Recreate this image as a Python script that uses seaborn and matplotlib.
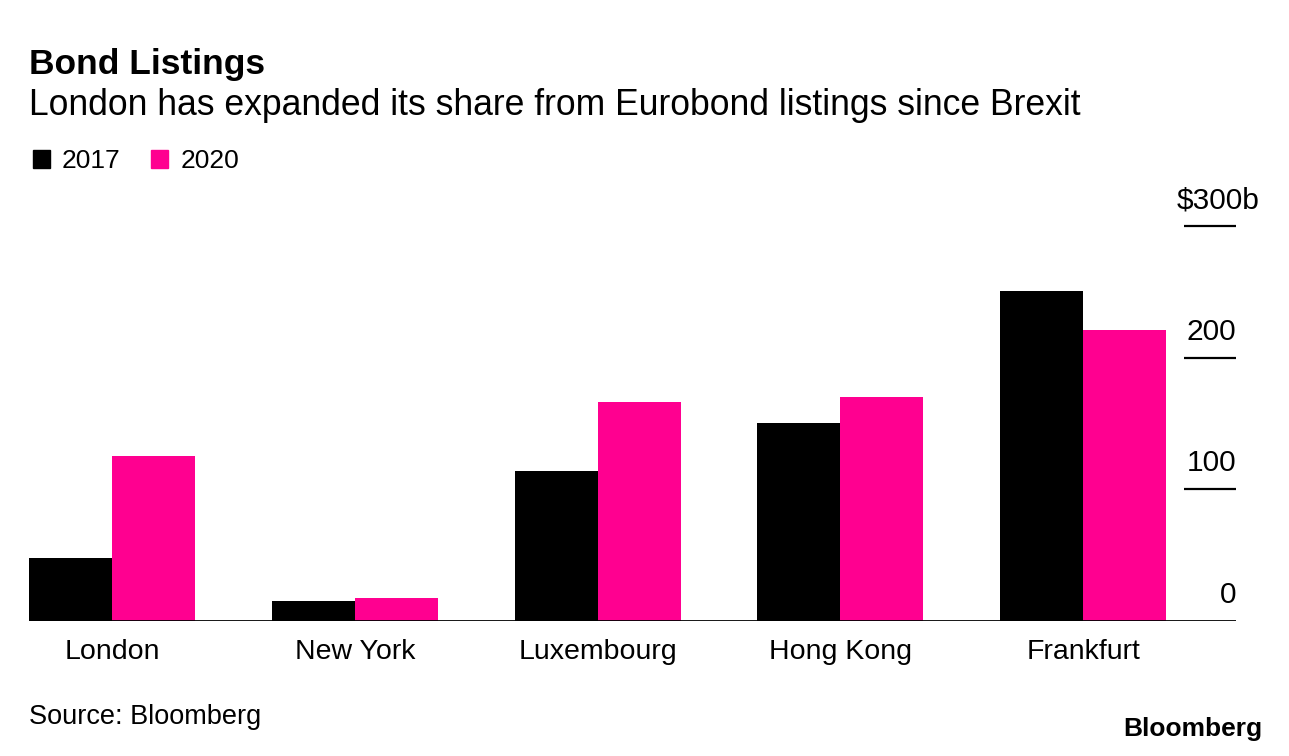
import matplotlib.pyplot as plt
import pandas as pd
import seaborn as sns
from matplotlib.patches import Patch

# Data ($ billions)
cities = ['London', 'New York', 'Luxembourg', 'Hong Kong', 'Frankfurt']
years = ['2017', '2020']
vals_2017 = [48, 15, 114, 150, 251]
vals_2020 = [125, 17, 166, 170, 221]
yticks = [0, 100, 200, 300]
ytick_labels = ['0', '100', '200', '$300b']
colors = ['#000000', '#ff0090']

df = pd.DataFrame({
    'city': cities * 2,
    'year': [years[0]] * len(cities) + [years[1]] * len(cities),
    'value': vals_2017 + vals_2020,
})

sns.set_style('white')
plt.rcParams['font.family'] = ['Liberation Sans', 'DejaVu Sans']
plt.rcParams['text.color'] = 'black'

fig = plt.figure(figsize=(12.89, 7.56), dpi=100)
ax = fig.add_axes([0.0225, 0.179, 0.9364, 0.522])

sns.barplot(data=df, x='city', y='value', hue='year', palette=colors,
            width=0.684, gap=0, saturation=1, linewidth=0,
            legend=False, ax=ax)

ax.set_xlim(-0.342, 4.63)
ax.set_ylim(0, 300)
ax.set_xlabel('')
ax.set_ylabel('')
ax.set_yticks([])
sns.despine(ax=ax, left=True, right=True, top=True, bottom=True)
ax.tick_params(axis='x', length=0, pad=13, labelsize=20.5, colors='black')
ax.axhline(0, color='black', lw=2, zorder=5)

# right-hand value axis: short lines with the labels sitting on top
trans = ax.get_yaxis_transform()
ax.hlines(yticks[1:], 0.957, 1.0, color='black', lw=1.6, transform=trans, clip_on=False)
for v, lab in zip(yticks, ytick_labels):
    x = 1.0199 if lab.endswith('b') else 1.0
    ax.text(x, v + 13.7, lab, transform=trans, ha='right', va='baseline',
            fontsize=21.5, color='black', clip_on=False)

fig.text(0.0225, 0.902, 'Bond Listings', fontsize=25.5, fontweight='bold', va='baseline')
fig.text(0.0225, 0.848, 'London has expanded its share from Eurobond listings since Brexit',
         fontsize=25.6, va='baseline')

handles = [Patch(color=c) for c in colors]
fig.legend(handles, years, loc='center left', bbox_to_anchor=(0.0256, 0.787),
           ncol=2, frameon=False, fontsize=19, handlelength=0.65, handleheight=0.65,
           handletextpad=0.45, columnspacing=1.15, borderpad=0, borderaxespad=0)

fig.text(0.0225, 0.0423, 'Source: Bloomberg', fontsize=19.5, va='baseline')
fig.text(0.979, 0.0265, 'Bloomberg', fontsize=19, fontweight='bold', ha='right', va='baseline')

fig.savefig('out.png', dpi=100)
